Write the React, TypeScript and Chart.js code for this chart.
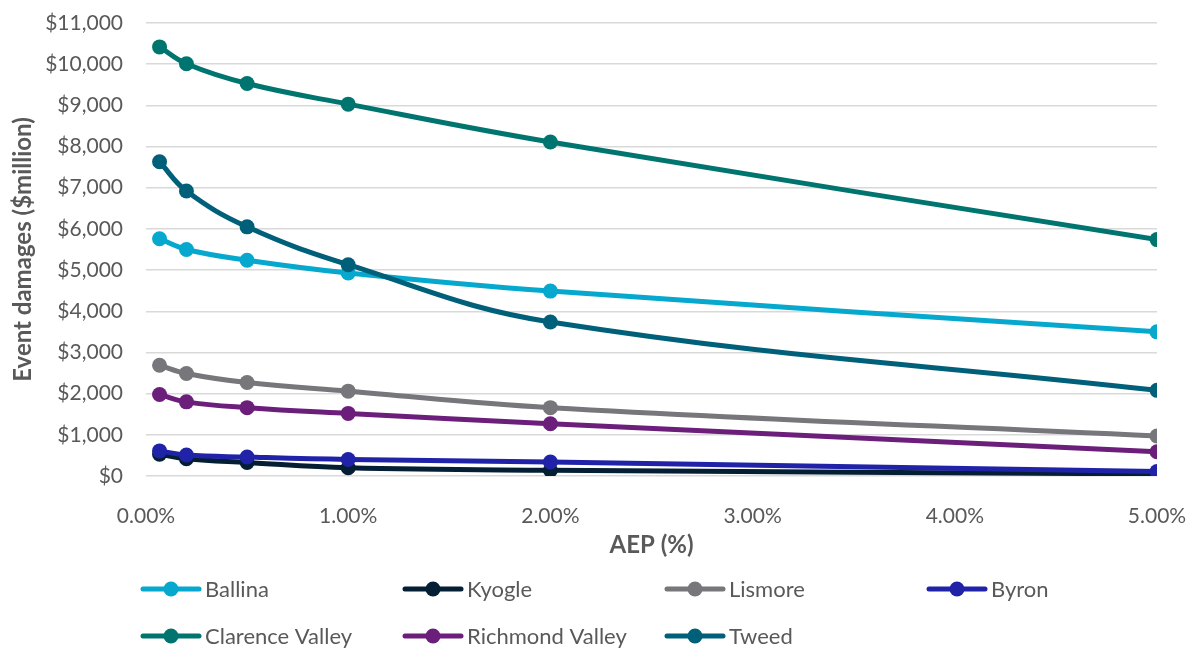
import { useEffect, useRef } from "react";
import { Chart, registerables } from "chart.js";

Chart.register(...registerables);

// Annual exceedance probability (%) of each modelled event
const aepPercent = [0.067, 0.2, 0.5, 1, 2, 5];

// Event damages ($million) per LGA
const ballina = [5760, 5500, 5240, 4930, 4490, 3500];
const kyogle = [530, 420, 330, 200, 140, 50];
const lismore = [2690, 2490, 2270, 2060, 1660, 970];
const byron = [610, 510, 460, 400, 340, 110];
const clarenceValley = [10420, 10010, 9530, 9030, 8110, 5740];
const richmondValley = [1980, 1800, 1660, 1520, 1270, 590];
const tweed = [7630, 6920, 6050, 5130, 3740, 2080];

const seriesNames = [
  "Ballina",
  "Kyogle",
  "Lismore",
  "Byron",
  "Clarence Valley",
  "Richmond Valley",
  "Tweed",
];
const seriesValues = [ballina, kyogle, lismore, byron, clarenceValley, richmondValley, tweed];
const seriesColors = ["#06a8ce", "#041e33", "#76767b", "#2023a8", "#00756f", "#6c1f7a", "#00607a"];

const yMax = 11000;
const yStep = 1000;
const xMax = 5;

const FONT = "Lato, 'Open Sans', sans-serif";
const TEXT = "#595959";

// Two-row legend drawn under the x axis
const gridLegend = {
  id: "gridLegend",
  afterDraw(chart: any) {
    const { ctx } = chart;
    const xs = chart.scales.x;
    const startX = chart.chartArea.left - 3;
    const colW = 262;
    const rowY = [xs.bottom + 25, xs.bottom + 72];
    ctx.save();
    seriesNames.forEach((name, i) => {
      const col = i % 4;
      const row = Math.floor(i / 4);
      const x = startX + col * colW;
      const y = rowY[row];
      const c = seriesColors[i];
      ctx.strokeStyle = c;
      ctx.lineWidth = 5;
      ctx.lineCap = "round";
      ctx.beginPath();
      ctx.moveTo(x, y);
      ctx.lineTo(x + 56, y);
      ctx.stroke();
      ctx.fillStyle = c;
      ctx.beginPath();
      ctx.arc(x + 28, y, 7.5, 0, Math.PI * 2);
      ctx.fill();
      ctx.fillStyle = TEXT;
      ctx.font = `22px ${FONT}`;
      ctx.textAlign = "left";
      ctx.textBaseline = "middle";
      ctx.fillText(name, x + 62, y + 1);
    });
    ctx.restore();
  },
};

export default function App() {
  const canvasRef = useRef<HTMLCanvasElement | null>(null);

  useEffect(() => {
    document.body.style.margin = "0";
    const canvas = canvasRef.current;
    if (!canvas) return;

    const datasets = seriesNames.map((name, i) => ({
      label: name,
      data: aepPercent.map((x, j) => ({ x, y: seriesValues[i][j] })),
      borderColor: seriesColors[i],
      backgroundColor: seriesColors[i],
      borderWidth: 5,
      pointRadius: 7.5,
      pointHoverRadius: 7.5,
      pointBorderWidth: 0,
      tension: 0.4,
      showLine: true,
      fill: false,
      order: seriesNames.length - 1 - i,
    }));

    const chart = new Chart(canvas, {
      type: "scatter",
      data: { datasets },
      options: {
        animation: false,
        responsive: false,
        maintainAspectRatio: false,
        layout: { padding: { top: 23, left: 5, right: 35, bottom: 86 } },
        plugins: {
          legend: { display: false },
          tooltip: { enabled: false },
        },
        scales: {
          x: {
            type: "linear",
            min: 0,
            max: xMax,
            grid: { display: false },
            border: { display: false },
            ticks: {
              stepSize: 1,
              padding: 20,
              color: TEXT,
              font: { family: FONT, size: 21 },
              maxRotation: 0,
              callback: (v: any) => `${Number(v).toFixed(2)}%`,
            },
            title: {
              display: true,
              text: "AEP (%)",
              color: TEXT,
              font: { family: FONT, size: 24, weight: "bold" },
            },
            afterFit: (s: any) => {
              s.height = 88;
              s.paddingLeft = 0;
              s.paddingRight = 0;
            },
          },
          y: {
            min: 0,
            max: yMax,
            grid: { color: "#d9d9d9", lineWidth: 1.5, drawTicks: false },
            border: { display: false },
            ticks: {
              stepSize: yStep,
              padding: 23,
              color: TEXT,
              font: { family: FONT, size: 21 },
              callback: (v: any) => `$${Number(v).toLocaleString("en-US")}`,
            },
            title: {
              display: true,
              text: "Event damages ($million)",
              color: TEXT,
              font: { family: FONT, size: 24, weight: "bold" },
            },
            afterFit: (s: any) => {
              s.width = 141;
              s.paddingTop = 0;
              s.paddingBottom = 0;
            },
          },
        },
      },
      plugins: [gridLegend],
    });

    return () => chart.destroy();
  }, []);

  return (
    <div style={{ width: 1192, height: 650, background: "#fff" }}>
      <canvas ref={canvasRef} width={1192} height={650} style={{ display: "block" }} />
    </div>
  );
}
